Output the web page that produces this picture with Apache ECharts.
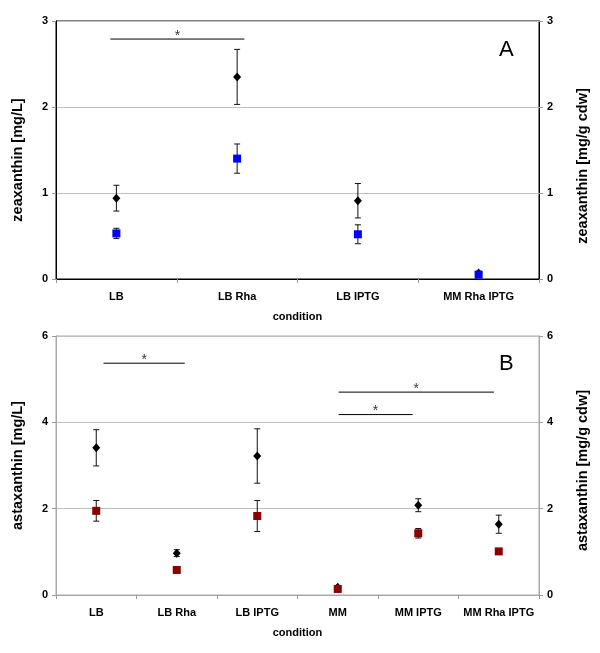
<!DOCTYPE html>
<html>
<head>
<meta charset="utf-8">
<script src="https://cdn.jsdelivr.net/npm/echarts@6/dist/echarts.min.js"></script>
<style>html,body{margin:0;padding:0;background:#fff;}#c{width:600px;height:653px;}</style>
</head>
<body>
<div id="c"></div>
<script>
// Panel A data
const categoriesA = ['LB', 'LB Rha', 'LB IPTG', 'MM Rha IPTG'];
const zeaVolMean = [0.94, 2.35, 0.91, 0.07];
const zeaVolErr  = [0.15, 0.32, 0.20, 0.02];
const zeaCdwMean = [0.53, 1.40, 0.52, 0.05];
const zeaCdwErr  = [0.06, 0.17, 0.11, 0.02];
const ticksA = [0, 1, 2, 3];
// significance: [fromIndex, toIndex, height]
const sigA = [[-0.05, 1.06, 2.79]];

// Panel B data
const categoriesB = ['LB', 'LB Rha', 'LB IPTG', 'MM', 'MM IPTG', 'MM Rha IPTG'];
const astaVolMean = [3.41, 0.97, 3.22, 0.18, 2.08, 1.64];
const astaVolErr  = [0.42, 0.08, 0.63, 0.04, 0.15, 0.21];
const astaCdwMean = [1.95, 0.58, 1.83, 0.14, 1.43, 1.01];
const astaCdwErr  = [0.24, 0.03, 0.36, 0.03, 0.11, 0.02];
const ticksB = [0, 2, 4, 6];
const sigB = [[0.09, 1.10, 5.37], [3.01, 4.94, 4.70], [3.01, 3.93, 4.18]];

const FONT = 'Liberation Sans, Arial, sans-serif';

function errSeries(means, errs, xIdx, yIdx) {
  return {
    type: 'custom', xAxisIndex: xIdx, yAxisIndex: yIdx, z: 2, silent: true,
    data: means.map((m, i) => [i, m, errs[i]]),
    renderItem: function (params, api) {
      const i = api.value(0), m = api.value(1), e = api.value(2);
      const top = api.coord([i, m + e]);
      const bot = api.coord([i, m - e]);
      const w = 3;
      const st = { stroke: '#111', lineWidth: 1 };
      return {
        type: 'group', children: [
          { type: 'line', shape: { x1: top[0], y1: top[1], x2: bot[0], y2: bot[1] }, style: st },
          { type: 'line', shape: { x1: top[0] - w, y1: top[1], x2: top[0] + w, y2: top[1] }, style: st },
          { type: 'line', shape: { x1: bot[0] - w, y1: bot[1], x2: bot[0] + w, y2: bot[1] }, style: st }
        ]
      };
    }
  };
}

function sigSeries(sig, xIdx, yIdx) {
  const out = [];
  sig.forEach(s => {
    out.push({
      type: 'line', xAxisIndex: xIdx, yAxisIndex: yIdx, symbol: 'none', silent: true,
      lineStyle: { color: '#000', width: 1 }, z: 3,
      data: [[s[0], s[2]], [s[1], s[2]]]
    });
    out.push({
      type: 'scatter', xAxisIndex: xIdx, yAxisIndex: yIdx, symbolSize: 0, silent: true, z: 4,
      data: [[(s[0] + s[1]) / 2, s[2]]],
      label: { show: true, formatter: '*', position: 'inside', offset: [0, -3],
        color: '#000', fontSize: 14, fontFamily: FONT }
    });
  });
  return out;
}

function catAxis(cats, gridIndex, name, color) {
  return {
    type: 'category', gridIndex, data: cats, boundaryGap: true,
    name, nameLocation: 'middle', nameGap: 32,
    nameTextStyle: { fontFamily: FONT, fontSize: 11, fontWeight: 'bold', color: '#000' },
    axisLine: { onZero: false, lineStyle: { color: color, width: 1 } },
    axisTick: { show: true, alignWithLabel: false, length: 4, lineStyle: { color: '#999' } },
    axisLabel: { interval: 0, fontFamily: FONT, fontSize: 11, fontWeight: 'bold', color: '#000', margin: 12 },
    splitLine: { show: false }
  };
}

function valAxis(gridIndex, pos, max, interval, name, color, split, shift) {
  return {
    type: 'value', gridIndex, position: pos, min: 0, max, interval,
    name, nameLocation: 'middle', nameGap: pos === 'left' ? 31 : 36,
    nameTextStyle: { fontFamily: FONT, fontSize: 14.5, fontWeight: 'bold', color: '#000',
      padding: [0, shift, 0, 0] },
    axisLine: { show: true, onZero: false, lineStyle: { color: color, width: 1 } },
    axisTick: { show: true, length: 4, lineStyle: { color: '#999' } },
    axisLabel: { fontFamily: FONT, fontSize: 11, fontWeight: 'bold', color: '#000', margin: 8 },
    splitLine: { show: split, lineStyle: { color: '#c0c0c0', width: 1 } }
  };
}

const hiddenX = (gridIndex, n) => ({ type: 'value', gridIndex, min: -0.5, max: n - 0.5, show: false,
  axisLine: { onZero: false } });

const chart = echarts.init(document.getElementById('c'), null, { renderer: 'canvas' });
chart.setOption({
  backgroundColor: '#fff',
  animation: false,
  grid: [
    { left: 56, right: 61, top: 21, height: 258, show: true, borderColor: '#000', borderWidth: 1 },
    { left: 56, right: 61, top: 336, height: 259, show: true, borderColor: '#a8a8a8', borderWidth: 1 }
  ],
  xAxis: [
    catAxis(categoriesA, 0, 'condition', '#000'),
    catAxis(categoriesB, 1, 'condition', '#a8a8a8'),
    hiddenX(0, categoriesA.length),
    hiddenX(1, categoriesB.length)
  ],
  yAxis: [
    valAxis(0, 'left', ticksA[ticksA.length - 1], ticksA[1] - ticksA[0], 'zeaxanthin [mg/L]', '#000', true, 20),
    valAxis(0, 'right', ticksA[ticksA.length - 1], ticksA[1] - ticksA[0], 'zeaxanthin [mg/g cdw]', '#000', false, 32),
    valAxis(1, 'left', ticksB[ticksB.length - 1], ticksB[1] - ticksB[0], 'astaxanthin [mg/L]', '#a8a8a8', true, 0),
    valAxis(1, 'right', ticksB[ticksB.length - 1], ticksB[1] - ticksB[0], 'astaxanthin [mg/g cdw]', '#a8a8a8', false, 10)
  ],
  graphic: [
    { type: 'text', left: 499, top: 39, style: { text: 'A', fontFamily: FONT, fontSize: 22, fill: '#000' } },
    { type: 'text', left: 499, top: 353, style: { text: 'B', fontFamily: FONT, fontSize: 22, fill: '#000' } }
  ],
  series: [
    errSeries(zeaVolMean, zeaVolErr, 0, 0),
    errSeries(zeaCdwMean, zeaCdwErr, 0, 1),
    { type: 'scatter', xAxisIndex: 0, yAxisIndex: 0, symbol: 'diamond', symbolSize: [8, 9], z: 5,
      itemStyle: { color: '#000', opacity: 1 }, data: zeaVolMean },
    { type: 'scatter', xAxisIndex: 0, yAxisIndex: 1, symbol: 'rect', symbolSize: 8, z: 5,
      itemStyle: { color: '#0000ff', opacity: 1 }, data: zeaCdwMean },
    ...sigSeries(sigA, 2, 0),
    errSeries(astaVolMean, astaVolErr, 1, 2),
    errSeries(astaCdwMean, astaCdwErr, 1, 3),
    { type: 'scatter', xAxisIndex: 1, yAxisIndex: 2, symbol: 'diamond', symbolSize: [8, 9], z: 5,
      itemStyle: { color: '#000', opacity: 1 }, data: astaVolMean },
    { type: 'scatter', xAxisIndex: 1, yAxisIndex: 3, symbol: 'rect', symbolSize: 8, z: 5,
      itemStyle: { color: '#8b0000', opacity: 1 }, data: astaCdwMean },
    ...sigSeries(sigB, 3, 2)
  ]
});
</script>
</body>
</html>
